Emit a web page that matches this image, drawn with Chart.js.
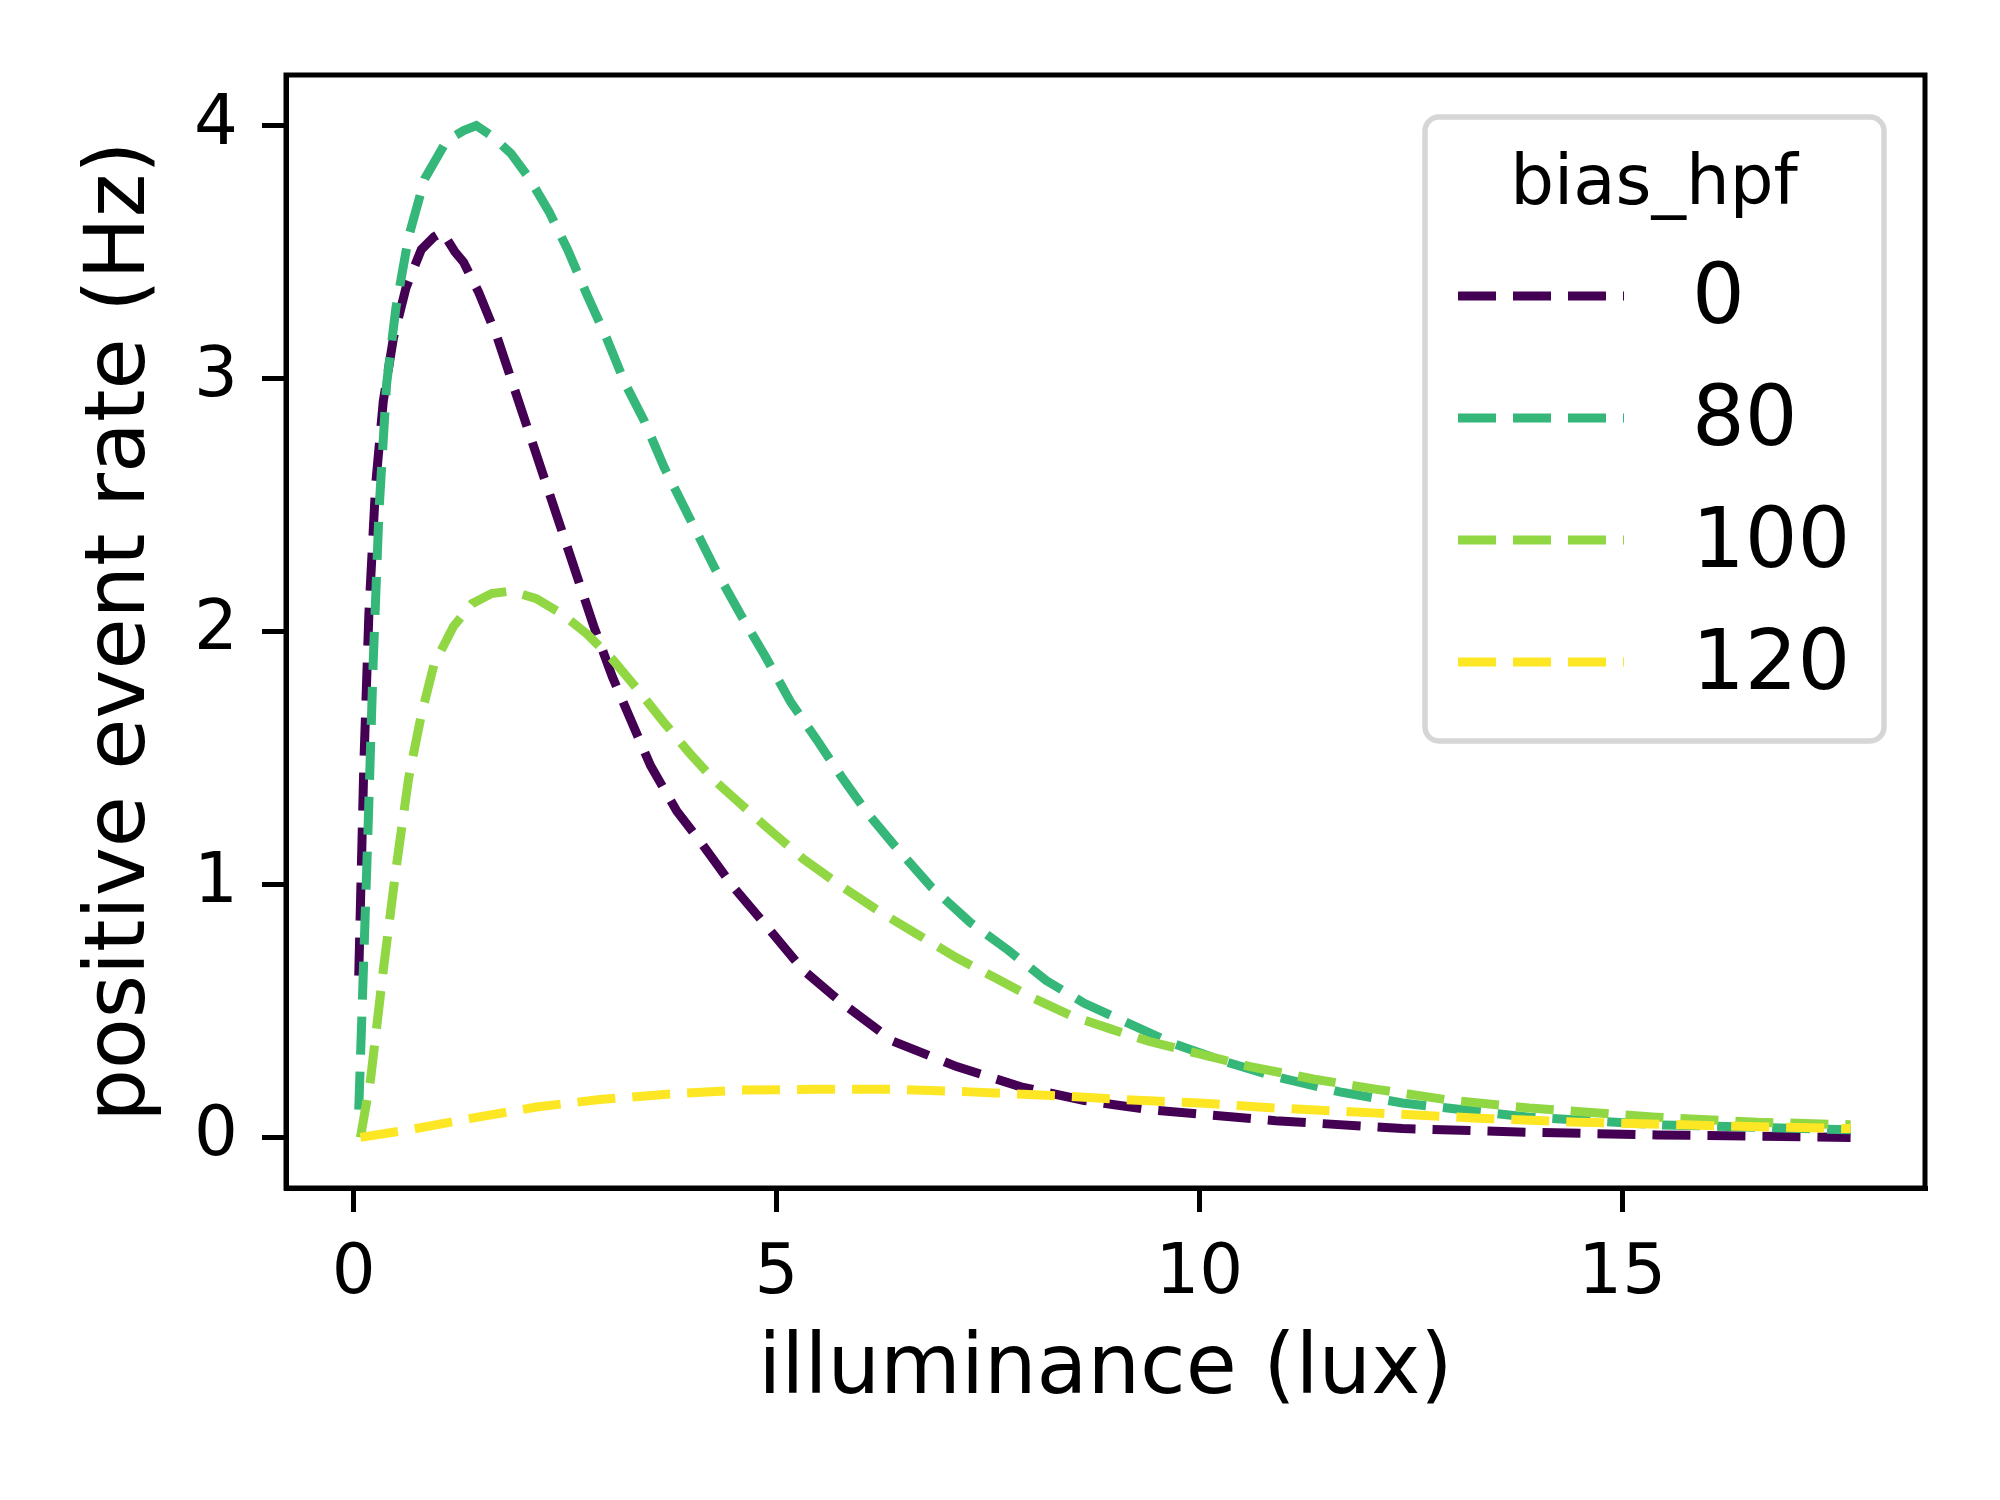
<!DOCTYPE html>
<html>
<head>
<meta charset="utf-8">
<script src="https://cdn.jsdelivr.net/npm/chart.js@4/dist/chart.umd.min.js"></script>
<style>
  html, body { margin: 0; padding: 0; background: #ffffff; }
  #wrap { width: 2000px; height: 1500px; }
</style>
</head>
<body>
<div id="wrap"><canvas id="rateChart" width="2000" height="1500"></canvas></div>
<script>
// bias_hpf series
const seriesNames = ['0', '80', '100', '120'];
const seriesColors = ['#440154', '#35b779', '#90d743', '#fde725'];

const x0 = [0.06, 0.12, 0.18, 0.26, 0.35, 0.47, 0.62, 0.80, 0.95, 1.05, 1.20, 1.30, 1.48, 1.70, 1.93, 2.16, 2.38, 2.61, 2.84, 3.06, 3.29, 3.51, 3.82, 4.12, 4.49, 4.87, 5.32, 5.78, 6.38, 7.13, 7.89, 8.64, 9.40, 10.9, 12.4, 13.9, 15.4, 16.6, 17.7];
const y0 = [0.64, 1.47, 2.07, 2.58, 2.91, 3.16, 3.36, 3.51, 3.56, 3.58, 3.50, 3.46, 3.34, 3.16, 2.93, 2.70, 2.48, 2.25, 2.02, 1.82, 1.64, 1.47, 1.29, 1.16, 0.99, 0.84, 0.66, 0.53, 0.38, 0.28, 0.20, 0.146, 0.11, 0.066, 0.035, 0.02, 0.01, 0.005, 0.0];

const x80 = [0.06, 0.10, 0.17, 0.23, 0.30, 0.39, 0.50, 0.65, 0.84, 1.10, 1.30, 1.45, 1.63, 1.86, 2.08, 2.31, 2.53, 2.76, 2.99, 3.21, 3.44, 3.67, 3.97, 4.27, 4.57, 4.87, 5.17, 5.48, 5.78, 6.08, 6.38, 6.83, 7.29, 7.74, 8.19, 8.64, 9.10, 9.70, 10.3, 10.9, 11.66, 12.4, 13.2, 13.9, 15.4, 16.6, 17.7];
const y80 = [0.11, 0.51, 1.22, 1.87, 2.48, 2.98, 3.28, 3.56, 3.79, 3.94, 3.98, 4.00, 3.96, 3.89, 3.79, 3.66, 3.51, 3.33, 3.16, 2.98, 2.83, 2.65, 2.45, 2.25, 2.07, 1.90, 1.72, 1.57, 1.42, 1.28, 1.16, 0.99, 0.85, 0.74, 0.62, 0.53, 0.46, 0.37, 0.30, 0.24, 0.18, 0.136, 0.106, 0.08, 0.05, 0.04, 0.03];

const x100 = [0.08, 0.20, 0.35, 0.50, 0.65, 0.80, 0.95, 1.18, 1.40, 1.63, 1.86, 2.16, 2.46, 2.76, 3.06, 3.36, 3.67, 3.97, 4.27, 4.57, 4.87, 5.32, 5.78, 6.23, 6.68, 7.13, 7.59, 8.04, 8.49, 8.94, 9.40, 10.0, 10.6, 11.36, 12.1, 12.9, 13.9, 15.4, 16.6, 17.7];
const y100 = [0.0, 0.23, 0.66, 1.06, 1.42, 1.67, 1.87, 2.02, 2.11, 2.15, 2.16, 2.13, 2.07, 1.99, 1.89, 1.77, 1.64, 1.52, 1.41, 1.32, 1.23, 1.10, 0.99, 0.89, 0.80, 0.71, 0.63, 0.55, 0.48, 0.43, 0.38, 0.33, 0.28, 0.23, 0.19, 0.15, 0.116, 0.08, 0.06, 0.05];

const x120 = [0.08, 0.65, 1.40, 2.16, 2.91, 3.67, 4.57, 5.48, 6.38, 7.29, 8.19, 9.10, 10.0, 10.9, 12.1, 13.3, 14.5, 15.7, 16.6, 17.7];
const y120 = [0.0, 0.03, 0.076, 0.12, 0.15, 0.17, 0.187, 0.19, 0.19, 0.18, 0.167, 0.15, 0.136, 0.116, 0.096, 0.076, 0.06, 0.05, 0.042, 0.035];

const xTicks = [0, 5, 10, 15];
const yTicks = [0, 1, 2, 3, 4];

const xTitle = 'illuminance (lux)';
const yTitle = 'positive event rate (Hz)';
const legendTitle = 'bias_hpf';

const FONT = '"DejaVu Sans", sans-serif';
const DASH = [38, 17];

function toPoints(xs, ys) {
    return xs.map((x, i) => ({ x: x, y: ys[i] }));
}

const allX = [x0, x80, x100, x120];
const allY = [y0, y80, y100, y120];

const datasets = seriesNames.map((name, i) => ({
    label: name,
    data: toPoints(allX[i], allY[i]),
    borderColor: seriesColors[i],
    borderWidth: 9,
    borderDash: DASH,
    borderCapStyle: 'butt',
    pointRadius: 0,
    tension: 0,
    fill: false,
    order: seriesNames.length - 1 - i // later series drawn on top, like matplotlib
}));

// frame on top/right, axis titles and the boxed legend
const decorPlugin = {
    id: 'decor',
    afterDraw(chart) {
        const ctx = chart.ctx;
        const a = chart.chartArea;
        ctx.save();

        // full frame
        ctx.strokeStyle = '#000000';
        ctx.lineWidth = 5;
        ctx.setLineDash([]);
        ctx.strokeRect(a.left, a.top, a.right - a.left, a.bottom - a.top);

        // axis titles
        ctx.fillStyle = '#000000';
        ctx.font = '83px ' + FONT;
        ctx.textAlign = 'center';
        ctx.textBaseline = 'middle';
        ctx.fillText(xTitle, (a.left + a.right) / 2, 1371);

        ctx.save();
        ctx.translate(122, (a.top + a.bottom) / 2);
        ctx.rotate(-Math.PI / 2);
        ctx.fillText(yTitle, 0, 0);
        ctx.restore();

        // legend box
        const bx = 1425, by = 117, bw = 459, bh = 624, r = 14;
        ctx.globalAlpha = 0.8;
        ctx.fillStyle = '#ffffff';
        ctx.strokeStyle = '#cccccc';
        ctx.lineWidth = 5.5;
        ctx.beginPath();
        ctx.roundRect(bx, by, bw, bh, r);
        ctx.fill();
        ctx.stroke();
        ctx.globalAlpha = 1;

        ctx.fillStyle = '#000000';
        ctx.font = '69px ' + FONT;
        ctx.textAlign = 'center';
        ctx.fillText(legendTitle, 1654, 186);

        const rowY = [296, 418, 540, 662];
        ctx.font = '83px ' + FONT;
        ctx.textAlign = 'left';
        seriesNames.forEach((name, i) => {
            ctx.strokeStyle = seriesColors[i];
            ctx.lineWidth = 9;
            ctx.lineCap = 'butt';
            ctx.setLineDash(DASH);
            ctx.beginPath();
            ctx.moveTo(1458, rowY[i]);
            ctx.lineTo(1624, rowY[i]);
            ctx.stroke();
            ctx.setLineDash([]);
            ctx.fillStyle = '#000000';
            ctx.fillText(name, 1692, rowY[i] + 5);
        });

        ctx.restore();
    }
};

new Chart(document.getElementById('rateChart').getContext('2d'), {
    type: 'line',
    data: { datasets: datasets },
    options: {
        responsive: false,
        animation: false,
        devicePixelRatio: 1,
        layout: { padding: { left: 0, top: 75, right: 75, bottom: 0 } },
        plugins: {
            legend: { display: false },
            tooltip: { enabled: false }
        },
        scales: {
            x: {
                type: 'linear',
                min: -0.8,
                max: 18.58,
                afterBuildTicks: (scale) => { scale.ticks = xTicks.map(v => ({ value: v })); },
                afterFit: (scale) => { scale.height = 312; },
                grid: {
                    drawOnChartArea: false,
                    drawTicks: true,
                    tickLength: 24,
                    tickWidth: 5,
                    tickColor: '#000000',
                    lineWidth: 5,
                    color: '#000000'
                },
                border: { display: true, color: '#000000', width: 5 },
                ticks: {
                    padding: 22,
                    color: '#000000',
                    maxRotation: 0,
                    autoSkip: false,
                    font: { family: FONT, size: 69 }
                }
            },
            y: {
                type: 'linear',
                min: -0.2,
                max: 4.2,
                afterBuildTicks: (scale) => { scale.ticks = yTicks.map(v => ({ value: v })); },
                afterFit: (scale) => { scale.width = 286; },
                grid: {
                    drawOnChartArea: false,
                    drawTicks: true,
                    tickLength: 24,
                    tickWidth: 5,
                    tickColor: '#000000',
                    lineWidth: 5,
                    color: '#000000'
                },
                border: { display: true, color: '#000000', width: 5 },
                ticks: {
                    padding: 24,
                    color: '#000000',
                    autoSkip: false,
                    font: { family: FONT, size: 69 }
                }
            }
        }
    },
    plugins: [decorPlugin]
});
</script>
</body>
</html>
